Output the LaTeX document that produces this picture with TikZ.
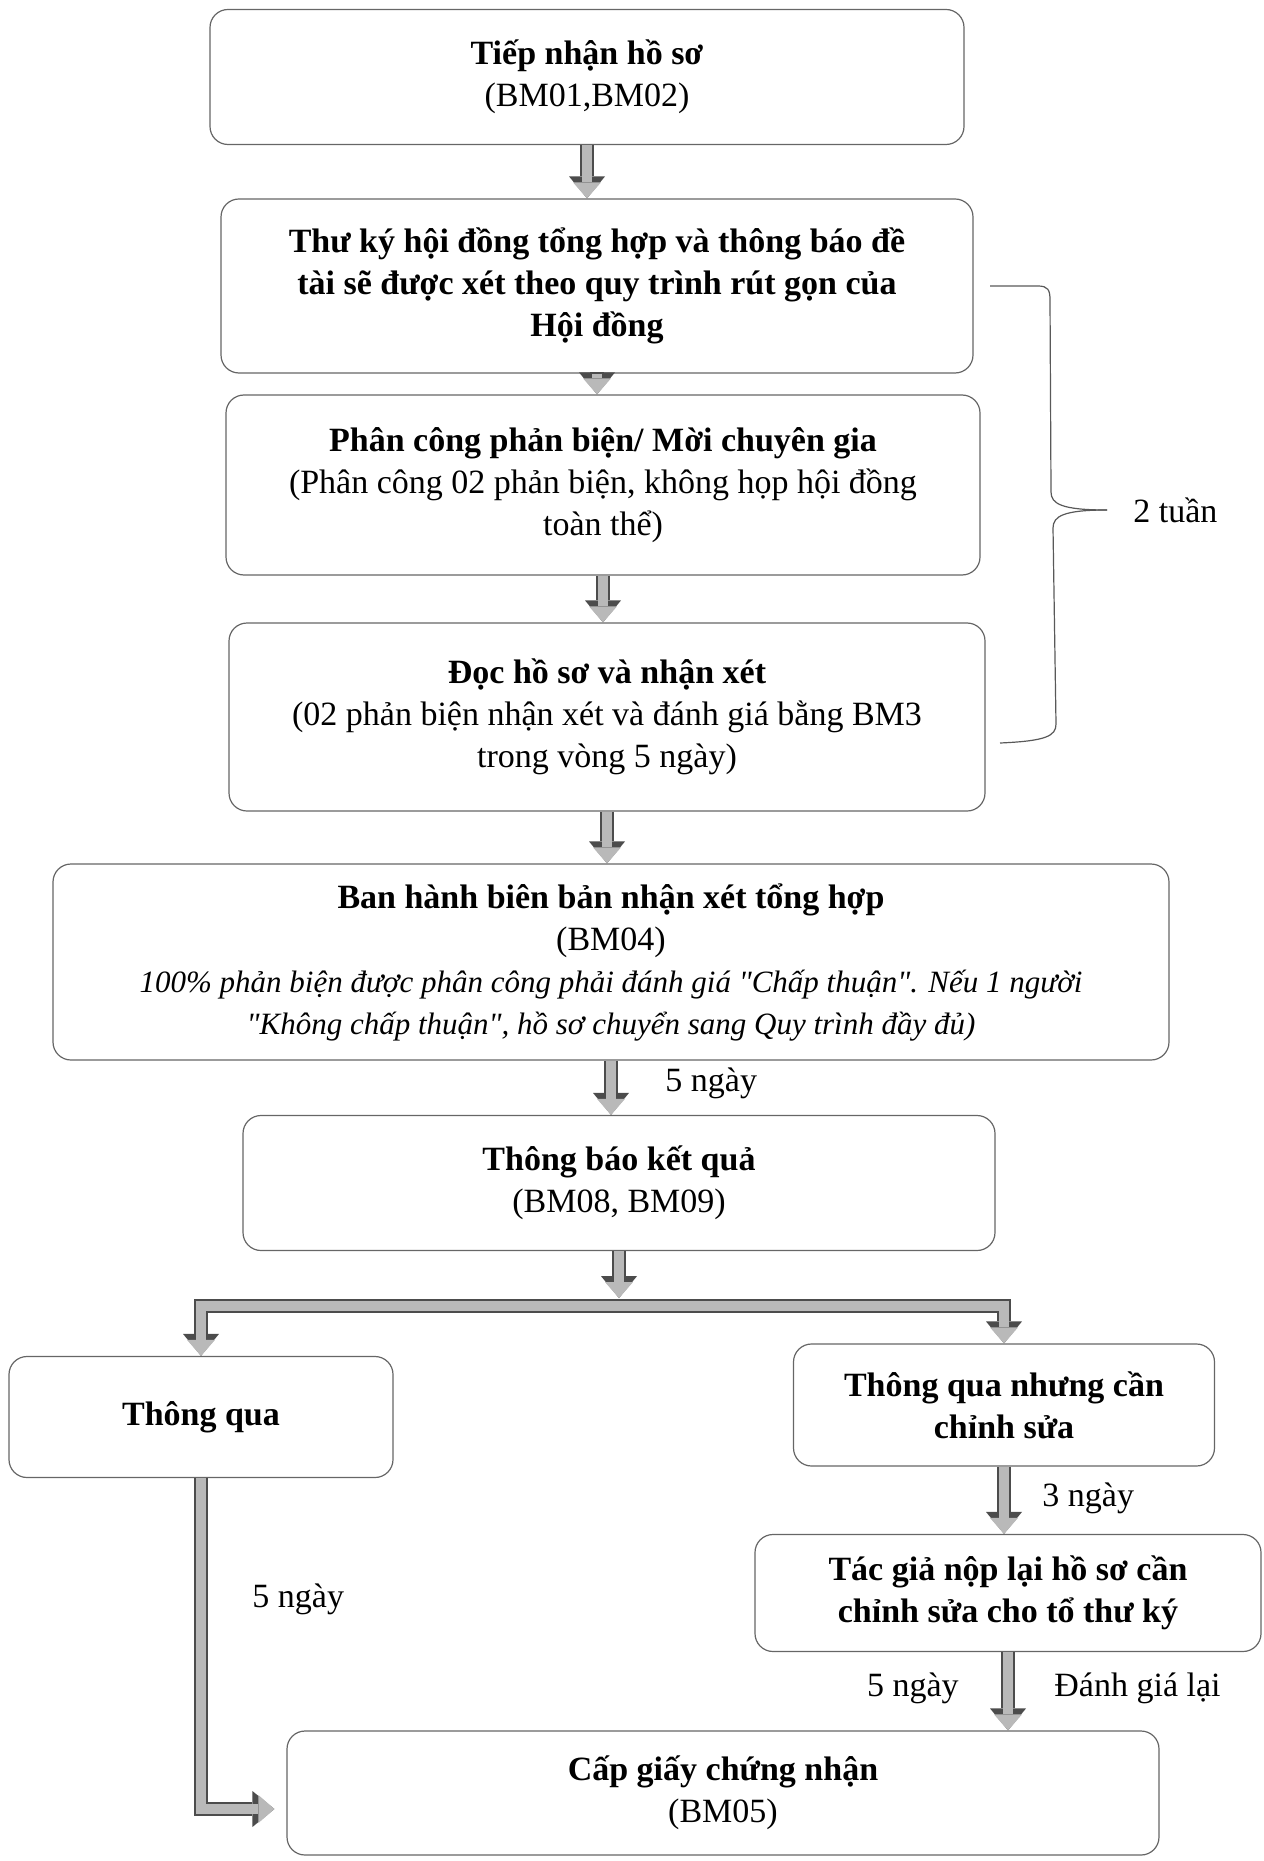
\documentclass[tikz,border=0pt]{standalone}
\usepackage{fontspec}
\setmainfont{Liberation Serif}
\usetikzlibrary{positioning,arrows.meta}

\newcommand{\remarkfont}{\itshape\fontsize{15.5}{19}\selectfont}

\tikzset{
  box/.style={draw=black!60, line width=0.6pt, rounded corners=9pt, align=center, inner sep=4pt},
  flow/.style={draw=gray!55, line width=5pt, -{Triangle[width=14pt,length=8pt,line width=0pt]},
    preaction={draw=black!70, line width=7pt, -{Triangle[width=18pt,length=11pt,line width=0pt]}}},
  bracket/.style={draw=black!65, line width=0.6pt},
  note/.style={inner sep=0pt, anchor=west}
}

\begin{document}
\begin{tikzpicture}[x=0.5pt, y=-0.5pt, font=\fontsize{17}{21}\selectfont]
		\useasboundingbox (0,0) rectangle (1263,1861);
		% main column
		\node [box, minimum width=377pt, minimum height=67.5pt] (intake) at (587,77) {\textbf{Tiếp nhận hồ sơ}\\(BM01,BM02)};
		\node [box, minimum width=376pt, minimum height=87pt] (summary) at (597,286) {\textbf{Thư ký hội đồng tổng hợp và thông báo đề}\\\textbf{tài sẽ được xét theo quy trình rút gọn của}\\\textbf{Hội đồng}};
		\node [box, minimum width=377pt, minimum height=90pt] (assign) at (603,485) {\textbf{Phân công phản biện/ Mời chuyên gia}\\(Phân công 02 phản biện, không họp hội đồng\\toàn thể)};
		\node [box, minimum width=378pt, minimum height=94pt] (review) at (607,717) {\textbf{Đọc hồ sơ và nhận xét}\\(02 phản biện nhận xét và đánh giá bằng BM3\\trong vòng 5 ngày)};
		\node [box, minimum width=558pt, minimum height=98pt] (minutes) at (611,962) {\textbf{Ban hành biên bản nhận xét tổng hợp}\\(BM04)\\{\remarkfont 100\% phản biện được phân công phải đánh giá \textquotedbl Chấp thuận\textquotedbl. Nếu 1 người}\\{\remarkfont \textquotedbl Không chấp thuận\textquotedbl, hồ sơ chuyển sang Quy trình đầy đủ)}};
		\node [box, minimum width=376pt, minimum height=67.5pt] (notify) at (619,1183) {\textbf{Thông báo kết quả}\\(BM08, BM09)};
		% branches
		\node [box, minimum width=192pt, minimum height=60.5pt] (pass) at (201,1417) {\textbf{Thông qua}};
		\node [box, minimum width=210.5pt, minimum height=61pt] (revise) at (1004,1405) {\textbf{Thông qua nhưng cần}\\\textbf{chỉnh sửa}};
		\node [box, minimum width=253pt, minimum height=58.5pt] (resubmit) at (1008,1593) {\textbf{Tác giả nộp lại hồ sơ cần}\\\textbf{chỉnh sửa cho tổ thư ký}};
		\node [box, minimum width=436pt, minimum height=62pt] (cert) at (723,1793) {\textbf{Cấp giấy chứng nhận}\\(BM05)};

		\draw[flow] (intake.south) -- (intake.south |- summary.north);
		\draw[flow] (summary.south) -- (summary.south |- assign.north);
		\draw[flow] (assign.south) -- (assign.south |- review.north);
		\draw[flow] (review.south) -- (review.south |- minutes.north);
		\draw[flow] (minutes.south) -- (minutes.south |- notify.north);
		\path (notify.south) ++(0,55) coordinate (fork);
		\path (notify.south) ++(0,47) coordinate (forktop);
		\draw[flow] (fork) -| (pass.north);
		\draw[flow] (fork) -| (revise.north);
		\draw[flow] (notify.south) -- (forktop);
		\draw[flow] (revise.south) -- (revise.south |- resubmit.north);
		\draw[flow] (resubmit.south) -- (resubmit.south |- cert.north);
		\draw[flow, shorten >=6pt] (pass.south) |- ([yshift=-8pt]cert.west);

		% 2 weeks bracket
		\draw[bracket] (990,286) -- (1038,286) .. controls (1048,286) and (1050,290) .. (1050,300) -- (1051,492) .. controls (1051,504) and (1062,510) .. (1107,510);
		\draw[bracket] (1107,510) .. controls (1064,510) and (1053,516) .. (1053,528) -- (1056,724) .. controls (1056,736) and (1046,741) .. (1000,743);

		\node [note] (weeks) at (1133,510) {2 tuần};
		\node [note] (days1) at (665,1083) {5 ngày};
		\node [note] (days2) at (1042,1498) {3 ngày};
		\node [note, anchor=east] (days3) at (959,1688) {5 ngày};
		\node [note] (again) at (1054,1688) {Đánh giá lại};
		\node [note] (days4) at (252,1599) {5 ngày};
	\end{tikzpicture}
\end{document}
